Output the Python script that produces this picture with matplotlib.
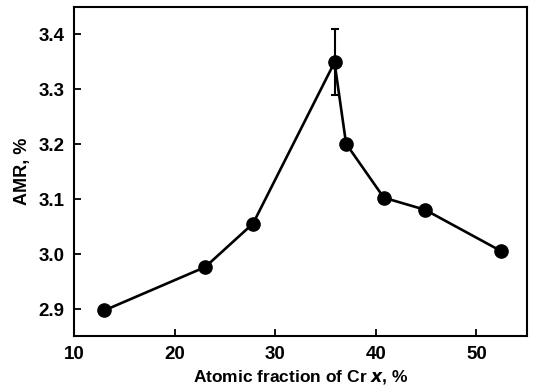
import matplotlib
matplotlib.use("Agg")
import matplotlib.pyplot as plt

# Data
cr_fraction = [13.0, 23.05, 27.8, 35.9, 37.05, 40.8, 44.9, 52.45]
amr = [2.898, 2.977, 3.056, 3.349, 3.201, 3.103, 3.081, 3.006]
amr_err = [0, 0, 0, 0.06, 0, 0, 0, 0]

x_ticks = [10, 20, 30, 40, 50]
y_ticks = [2.9, 3.0, 3.1, 3.2, 3.3, 3.4]

plt.rcParams['font.family'] = ['Liberation Sans', 'DejaVu Sans']
plt.rcParams['font.weight'] = 'bold'

fig = plt.figure(figsize=(5.36, 3.9), dpi=100)
ax = fig.add_axes([0.138, 0.139, 0.8446, 0.8423])

ax.plot(cr_fraction, amr, color='black', lw=1.9, marker='o', ms=9.5,
        mfc='black', mec='black', zorder=3)
err_x = [x for x, e in zip(cr_fraction, amr_err) if e > 0]
err_y = [y for y, e in zip(amr, amr_err) if e > 0]
err_v = [e for e in amr_err if e > 0]
ax.errorbar(err_x, err_y, yerr=err_v, fmt='none', ecolor='black',
            elinewidth=1.5, capsize=3, capthick=1.5, zorder=2)

ax.set_xlim(10, 55)
ax.set_ylim(2.852, 3.449)
ax.set_xticks(x_ticks)
ax.set_yticks(y_ticks)
ax.set_yticklabels([f"{v:.1f}" for v in y_ticks])
ax.tick_params(direction='in', length=5, width=1.3, labelsize=13.5, pad=7,
               top=False, right=False)
for s in ax.spines.values():
    s.set_linewidth(1.5)

ax.set_xlabel(r"Atomic fraction of Cr $\boldsymbol{x}$, %", fontsize=12.5,
              fontweight='bold', labelpad=4)
ax.set_ylabel("AMR, %", fontsize=13, fontweight='bold', labelpad=5)

fig.savefig("out.png", dpi=100)
